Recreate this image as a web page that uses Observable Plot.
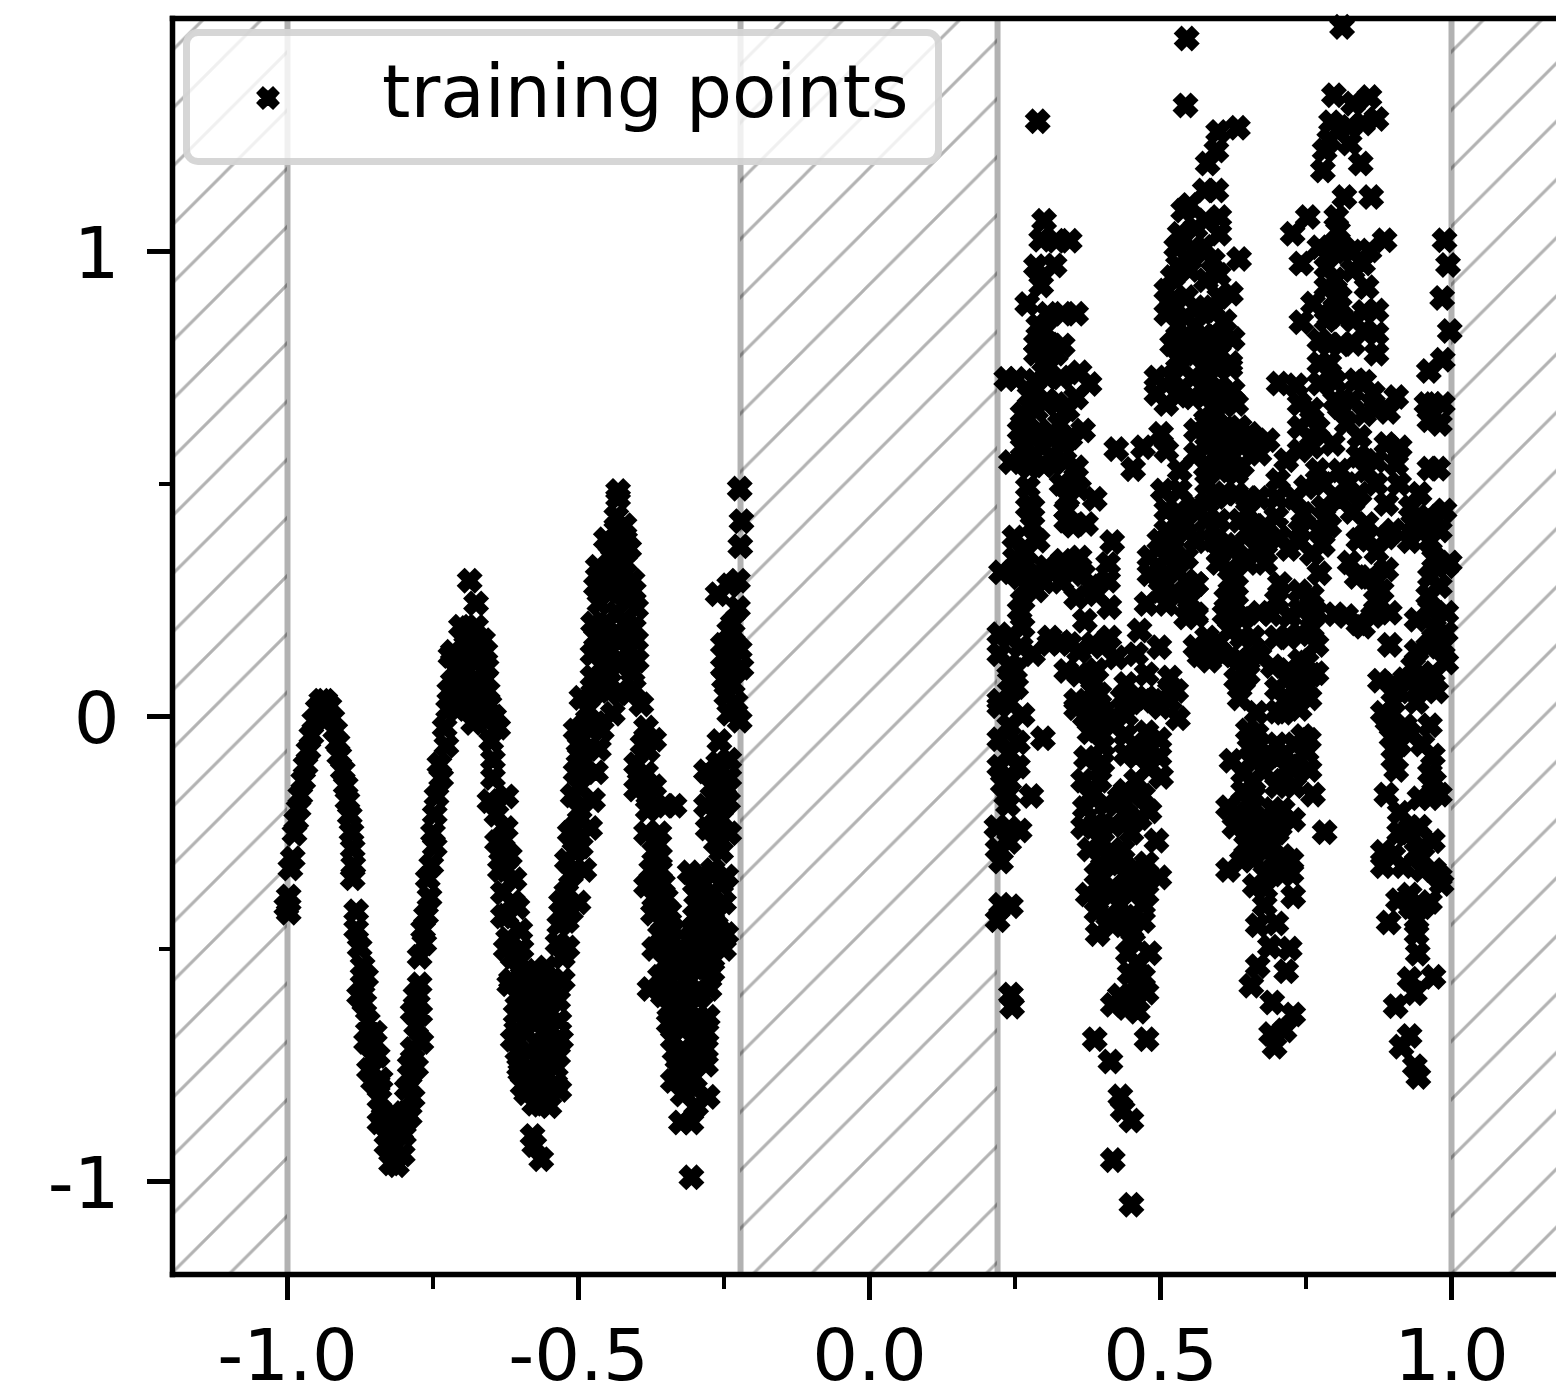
<!DOCTYPE html>
<html><head><meta charset="utf-8">
<script src="https://cdn.jsdelivr.net/npm/d3@7"></script>
<script src="https://cdn.jsdelivr.net/npm/@observablehq/plot@0.6"></script>
<style>
html,body{margin:0;padding:0;background:#fff;font-family:"DejaVu Sans",sans-serif}
#wrap{position:relative;width:1556px;height:1390px;overflow:hidden}
#legend{position:absolute;left:183px;top:29px;width:759px;height:136px;box-sizing:border-box;border:7px solid rgba(204,204,204,.8);border-radius:15px;background:rgba(255,255,255,.8)}
#legend span{position:absolute;left:192px;top:14px;font:72.5px/84px "DejaVu Sans";color:#000;white-space:pre}
#legend svg{position:absolute;left:66px;top:50px}
</style></head><body><div id="wrap"></div>
<script>
const xTicks=[-1,-0.5,0,0.5,1];
const xTickLabels=["-1.0","-0.5","0.0","0.5","1.0"];
const xMinorTicks=[-0.75,-0.25,0.25,0.75];
const yTicks=[-1,0,1];
const yTickLabels=["-1","0","1"];
const yMinorTicks=[-0.5,0.5];
const gapEdges=[-1,-0.2216,0.22,1];
const hatchedStart=[-1.1976,-0.2216,1];
const hatchedEnd=[-1,0.22,1.1804];
const legendLabel="training points";

const waveA=[[-.998,-.422],[-1.002,-.409],[-.998,-.387],[-.995,-.327],[-.991,-.305],[-.988,-.252],[-.985,-.224],[-.981,-.198],[-.978,-.170],[-.973,-.138],[-.969,-.105],[-.964,-.073],[-.959,-.041],[-.954,-.009],[-.948,.017],[-.942,.034],[-.935,.034],[-.928,.022],[-.923,-.004],[-.918,-.030],[-.914,-.056],[-.911,-.084],[-.905,-.116],[-.900,-.148],[-.897,-.181],[-.893,-.213],[-.890,-.249],[-.888,-.284],[-.887,-.320],[-.888,-.348]];
const waveB=[[-.882,-.419],[-.882,-.458],[-.876,-.497],[-.871,-.537],[-.871,-.576],[-.868,-.616],[-.862,-.655],[-.856,-.695],[-.853,-.734],[-.853,-.784],[-.842,-.823],[-.842,-.873],[-.830,-.922],[-.822,-.961],[-.802,-.942],[-.805,-.892],[-.796,-.853],[-.819,-.853],[-.790,-.794],[-.779,-.754],[-.785,-.715],[-.779,-.665],[-.785,-.636],[-.776,-.596],[-.773,-.576],[-.830,-.880],[-.815,-.925],[-.812,-.965],[-.800,-.900],[-.825,-.900],[-.810,-.880],[-.790,-.860],[-.835,-.860],[-.785,-.820],[-.845,-.790],[-.790,-.750],[-.770,-.700],[-.795,-.800],[-.772,-.640],[-.780,-.600],[-.865,-.560],[-.877,-.600],[-.850,-.680],[-.865,-.700],[-.845,-.730],[-.860,-.760],[-.840,-.780]];
const waveC=[[-.773,-.517],[-.765,-.488],[-.767,-.458],[-.762,-.428],[-.756,-.389],[-.759,-.349],[-.753,-.320],[-.747,-.280],[-.750,-.251],[-.747,-.211],[-.744,-.172],[-.736,-.132],[-.739,-.103],[-.727,-.063],[-.730,-.024],[-.724,.016],[-.722,.055],[-.716,.075],[-.710,.016],[-.687,.292],[-.676,.243],[-.702,.193],[-.676,.193],[-.664,.164],[-.716,.139],[-.693,.154],[-.670,.124],[-.658,.105],[-.699,.085],[-.676,.075],[-.656,.055],[-.653,.026],[-.638,-.024],[-.658,-.009],[-.681,-.014],[-.700,.050],[-.690,.020],[-.680,.040],[-.700,.120],[-.680,.120],[-.660,.080],[-.690,.190],[-.710,.100],[-.720,.130],[-.660,.140],[-.665,.030],[-.645,.000]];
const waveD=[[-.650,-.053],[-.647,-.093],[-.647,-.132],[-.653,-.182],[-.624,-.172],[-.641,-.211],[-.630,-.261],[-.633,-.290],[-.624,-.330],[-.630,-.379],[-.613,-.399],[-.624,-.428],[-.621,-.478],[-.613,-.517],[-.616,-.567],[-.590,-.547],[-.619,-.576],[-.596,-.557],[-.573,-.576],[-.544,-.567],[-.527,-.567],[-.607,-.675],[-.613,-.695],[-.579,-.655],[-.556,-.645],[-.533,-.655],[-.530,-.695],[-.602,-.754],[-.596,-.794],[-.567,-.734],[-.539,-.754],[-.533,-.803],[-.567,-.803],[-.576,-.833],[-.550,-.838],[-.579,-.902],[-.576,-.922],[-.564,-.952],[-.600,-.625],[-.575,-.610],[-.545,-.610]];
const waveDFill=[[-.625,-.240],[-.618,-.300],[-.610,-.350],[-.605,-.410],[-.600,-.460],[-.598,-.500],[-.640,-.270],[-.635,-.330],[-.630,-.430],[-.625,-.500],[-.605,-.520],[-.605,-.600],[-.582,-.640],[-.556,-.600],[-.535,-.610],[-.608,-.640],[-.590,-.680],[-.560,-.680],[-.540,-.700],[-.605,-.720],[-.585,-.720],[-.553,-.720],[-.535,-.730],[-.600,-.765],[-.580,-.760],[-.555,-.770],[-.540,-.790],[-.590,-.810],[-.550,-.805],[-.565,-.835],[-.585,-.600],[-.565,-.555],[-.555,-.540]];
const waveE=[[-.527,-.517],[-.536,-.488],[-.519,-.497],[-.533,-.448],[-.513,-.419],[-.521,-.379],[-.513,-.340],[-.507,-.290],[-.496,-.280],[-.507,-.241],[-.498,-.201],[-.498,-.152],[-.496,-.103],[-.498,-.063],[-.493,-.024],[-.470,-.014],[-.484,.016],[-.441,.006],[-.476,.134],[-.476,.085],[-.447,.144],[-.447,.095],[-.447,.055],[-.413,.144],[-.407,.095],[-.401,.164],[-.464,.243],[-.435,.223],[-.401,.233],[-.467,.322],[-.430,.312],[-.407,.292],[-.413,.361],[-.453,.381],[-.435,.401],[-.435,.430],[-.432,.470],[-.432,.485],[-.441,.341],[-.421,.411]];
const waveEFill=[[-.520,-.440],[-.500,-.400],[-.530,-.400],[-.490,-.330],[-.520,-.310],[-.480,-.240],[-.515,-.250],[-.475,-.180],[-.510,-.170],[-.470,-.120],[-.505,-.120],[-.465,-.070],[-.500,-.080],[-.460,-.030],[-.505,-.030],[-.475,.050],[-.495,.040],[-.460,.060],[-.460,.110],[-.460,.160],[-.430,.050],[-.430,.110],[-.430,.160],[-.420,.200],[-.450,.200],[-.405,.120],[-.405,.060],[-.415,.050],[-.420,.260],[-.450,.270],[-.440,.280],[-.430,.350],[-.445,.370],[-.420,.380],[-.470,.280],[-.405,.190],[-.405,.270],[-.455,.310],[-.420,.330],[-.430,.270],[-.475,.200],[-.470,.170],[-.400,.120]];
const waveF=[[-.392,.026],[-.384,-.024],[-.381,-.073],[-.401,-.103],[-.384,-.122],[-.401,-.157],[-.381,-.201],[-.384,-.251],[-.361,-.251],[-.370,-.290],[-.375,-.330],[-.384,-.364],[-.355,-.359],[-.372,-.424],[-.344,-.419],[-.350,-.192],[-.335,-.192],[-.390,-.060],[-.370,-.050],[-.395,-.140],[-.370,-.150],[-.380,-.170],[-.360,-.300],[-.360,-.330],[-.350,-.390],[-.370,-.390],[-.355,-.440]];
const clusterLow=[[-.338,-.458],[-.304,-.458],[-.355,-.488],[-.269,-.468],[-.246,-.468],[-.315,-.507],[-.281,-.497],[-.378,-.586],[-.344,-.567],[-.309,-.567],[-.275,-.586],[-.344,-.626],[-.309,-.626],[-.278,-.646],[-.338,-.695],[-.304,-.695],[-.281,-.715],[-.281,-.749],[-.327,-.754],[-.304,-.754],[-.338,-.784],[-.321,-.813],[-.278,-.818],[-.298,-.838],[-.324,-.873],[-.306,-.873],[-.306,-.991],[-.309,-.335],[-.269,-.330],[-.246,-.344],[-.298,-.384],[-.269,-.379],[-.264,-.428]];
const clusterLowFill=[[-.300,-.360],[-.285,-.360],[-.250,-.400],[-.285,-.420],[-.300,-.430],[-.260,-.460],[-.290,-.490],[-.270,-.520],[-.250,-.500],[-.290,-.530],[-.330,-.520],[-.350,-.530],[-.360,-.560],[-.320,-.600],[-.290,-.600],[-.330,-.660],[-.310,-.660],[-.290,-.680],[-.320,-.720],[-.290,-.720],[-.310,-.790],[-.300,-.800],[-.370,-.500],[-.265,-.170],[-.265,-.210],[-.260,-.130],[-.265,-.240],[-.255,-.290],[-.360,-.470],[-.340,-.500],[-.310,-.480],[-.290,-.460],[-.260,-.490],[-.330,-.550],[-.300,-.540],[-.270,-.550],[-.355,-.600],[-.335,-.590],[-.300,-.600],[-.345,-.660],[-.320,-.640],[-.295,-.650],[-.335,-.720],[-.300,-.730],[-.280,-.680],[-.330,-.760],[-.270,-.400],[-.290,-.400],[-.285,-.450],[-.295,-.350],[-.255,-.360],[-.270,-.440],[-.270,-.150],[-.255,-.190],[-.255,-.220],[-.250,-.150],[-.260,-.100]];
const clusterHigh=[[-.261,-.122],[-.281,-.118],[-.241,-.132],[-.281,-.192],[-.243,-.182],[-.278,-.241],[-.241,-.251],[-.264,-.270],[-.241,-.093],[-.258,-.053],[-.261,.263],[-.226,.292],[-.241,.282],[-.223,.490],[-.220,.420],[-.222,.366],[-.226,.233],[-.241,.184],[-.252,.154],[-.223,.144],[-.252,.105],[-.220,.105],[-.246,.045],[-.223,-.009],[-.241,.006],[-.235,.160],[-.235,.120],[-.235,.070],[-.230,.030],[-.250,.080],[-.240,.120],[-.235,.200]];

const rightTop=[[.300,1.066],[.295,1.025],[.321,1.023],[.344,1.023],[.286,.968],[.318,.970],[.295,.927],[.271,.887],[.306,.866],[.332,.866],[.355,.866],[.301,.830],[.286,.801],[.332,.798],[.286,.780],[.306,.773],[.235,.726],[.252,.726],[.284,.722],[.306,.729],[.329,.729],[.361,.740],[.378,.715],[.263,.651],[.286,.658],[.321,.672],[.355,.686],[.258,.615],[.292,.615],[.327,.629],[.367,.615],[.263,.579],[.298,.579],[.332,.586],[.243,.547],[.275,.536],[.315,.543],[.355,.536],[.272,.493],[.272,.450],[.349,.500],[.387,.468],[.338,.443],[.372,.414],[.338,.421],[.249,.385],[.289,.378],[.263,.357],[.417,.375],[.361,.342],[.332,.335],[.304,.321],[.410,.328],[.226,.310],[.258,.299],[.367,.306],[.410,.292],[.327,.314],[.263,.249],[.258,.228],[.286,.271],[.355,.256],[.390,.263],[.412,.235],[.223,.177],[.263,.192],[.370,.206],[.223,.134],[.241,.077],[.281,.134],[.309,.156],[.344,.156],[.384,.156],[.412,.170],[.223,.034],[.338,.098],[.384,.077],[.355,.034],[.384,.034],[.424,.127],[.458,.134],[.289,1.280]];
const rightTopFill=[[.275,.690],[.305,.680],[.340,.660],[.270,.620],[.310,.600],[.345,.600],[.270,.560],[.300,.540],[.335,.550],[.330,.500],[.360,.490],[.280,.450],[.340,.470],[.280,.410],[.350,.410],[.300,.740],[.290,.840],[.310,.800],[.320,.780],[.270,.330],[.250,.340],[.280,.300],[.300,.290],[.270,.280],[.330,.290],[.350,.310],[.380,.280],[.240,.170],[.260,.150],[.240,.110],[.250,.100],[.310,.170],[.330,.160],[.360,.140],[.400,.150],[.390,.100],[.360,.090],[.240,.030],[.240,-.020],[.240,-.080],[.240,-.140],[.235,-.170],[.240,-.240],[.240,-.270]];
const rightMid=[[.424,.575],[.453,.532],[.470,.579],[.501,.608],[.510,.572],[.533,.529],[.493,.729],[.493,.694],[.510,.672],[.510,.916],[.510,.866],[.527,1.009],[.539,1.088],[.533,1.038],[.521,.945],[.544,.902],[.544,.859],[.544,.808],[.521,.729],[.556,.729],[.556,.686],[.590,.880],[.590,.808],[.590,.758],[.561,.615],[.561,.565],[.590,.665],[.590,.593],[.590,.536],[.504,.486],[.510,.443],[.533,.486],[.544,.414],[.498,.378],[.481,.342],[.510,.342],[.544,.342],[.481,.306],[.544,.292],[.561,.285],[.476,.242],[.510,.242],[.544,.213],[.561,.220],[.579,.142],[.584,.120],[.464,.185],[.498,.149],[.441,.070],[.476,.091],[.516,.084],[.527,.055],[.516,.034],[.447,.034],[.487,.034],[.545,1.458],[.543,1.314]];
const rightMidFill=[[.520,.880],[.530,.840],[.520,.800],[.530,.970],[.550,.960],[.560,1.000],[.575,1.010],[.560,1.050],[.550,1.100],[.560,.880],[.560,.840],[.575,.820],[.530,.770],[.560,.780],[.575,.750],[.600,.780],[.620,.760],[.530,.690],[.575,.690],[.610,.670],[.580,.630],[.610,.620],[.580,.580],[.610,.560],[.640,.580],[.580,.500],[.610,.480],[.510,.400],[.530,.400],[.560,.450],[.580,.460],[.530,.440],[.560,.380],[.590,.380],[.520,.360],[.500,.300],[.530,.310],[.500,.270],[.530,.260],[.550,.250],[.600,.330],[.620,.360],[.650,.400],[.680,.330],[.620,.270]];
const rightLow=[[.252,.063],[.223,.022],[.263,.003],[.223,-.049],[.255,-.056],[.298,-.047],[.223,-.108],[.255,-.108],[.229,-.145],[.238,-.190],[.278,-.171],[.218,-.238],[.258,-.245],[.220,-.286],[.226,-.312],[.226,-.405],[.243,-.408],[.220,-.438],[.243,-.598],[.245,-.624],[.355,.018],[.395,.048],[.384,.011],[.435,.040],[.476,.040],[.516,.055],[.530,-.004],[.441,.003],[.378,-.034],[.418,-.019],[.476,-.034],[.498,-.049],[.372,-.089],[.401,-.063],[.367,-.138],[.395,-.138],[.458,-.086],[.498,-.086],[.501,-.130],[.458,-.138],[.370,-.197],[.407,-.190],[.367,-.238],[.430,-.175],[.481,-.204],[.418,-.234],[.464,-.219],[.493,-.267],[.378,-.286],[.435,-.286],[.401,-.323],[.430,-.316],[.458,-.327],[.476,-.316],[.498,-.346],[.375,-.383],[.418,-.368],[.476,-.383],[.390,-.420],[.430,-.405],[.470,-.405],[.392,-.468],[.418,-.449],[.453,-.464],[.444,-.509],[.481,-.509],[.447,-.553],[.458,-.575],[.476,-.594],[.418,-.620],[.441,-.627],[.461,-.635],[.387,-.694],[.476,-.694],[.414,-.742],[.431,-.817],[.435,-.846],[.450,-.869],[.418,-.954],[.450,-1.050]];
const rightLowFill=[[.370,.000],[.400,.010],[.420,.000],[.450,.030],[.500,.020],[.390,-.030],[.440,-.040],[.470,-.070],[.400,-.100],[.440,-.080],[.480,-.110],[.380,-.170],[.440,-.160],[.470,-.170],[.390,-.230],[.440,-.210],[.400,-.270],[.450,-.250],[.410,-.300],[.390,-.340],[.440,-.340],[.470,-.350],[.400,-.380],[.450,-.380],[.410,-.430],[.440,-.430],[.470,-.440],[.450,-.480],[.460,-.530],[.470,-.560],[.450,-.600],[.430,-.600]];
const peakUpper=[[.812,1.483],[.798,1.336],[.831,1.318],[.859,1.332],[.793,1.278],[.871,1.285],[.825,1.268],[.848,1.275],[.782,1.217],[.825,1.232],[.779,1.174],[.844,1.189],[.816,1.117],[.862,1.117],[.802,1.074],[.753,1.074],[.727,1.038],[.805,1.045],[.885,1.024],[.773,1.009],[.813,1.009],[.859,1.002],[.742,.974],[.785,.966],[.848,.974],[.785,.923],[.854,.923],[.762,.888],[.808,.902],[.871,.873],[.742,.848],[.785,.852],[.831,.852],[.871,.823],[.773,.809],[.831,.801],[.871,.780],[.773,.759],[.703,.716],[.733,.712],[.773,.716],[.836,.723],[.865,.694],[.905,.687],[.891,.655],[.739,.672],[.808,.665],[.739,.622],[.739,.572],[.796,.586],[.842,.601],[.888,.586],[.911,.579],[.702,.508],[.716,.551],[.699,.429],[.750,.493],[.808,.529],[.854,.529],[.905,.543],[.745,.436],[.808,.465],[.842,.479],[.888,.457],[.945,.479],[.962,.533],[.977,.533],[.988,.443],[.968,.407],[.934,.414],[.854,.414],[.773,.400],[.988,1.024],[.994,.971],[.984,.900],[.997,.829],[.985,.767],[.961,.743],[.968,.672],[.962,.637],[.985,.672],[.957,.672],[.980,.629]];
const peakUpperFill=[[.790,1.240],[.800,1.000],[.830,1.000],[.800,.940],[.830,.960],[.800,.900],[.790,.860],[.810,.860],[.790,.800],[.810,.800],[.850,.870],[.850,.830],[.790,.760],[.800,.720],[.850,.720],[.800,.680],[.830,.680],[.870,.660],[.760,.660],[.770,.620],[.820,.630],[.850,.650],[.760,.580],[.770,.530],[.840,.560],[.870,.550],[.780,.500],[.820,.500],[.870,.500],[.780,.450],[.830,.440],[.910,.500],[.960,.430],[.930,.450],[.980,.400],[.740,.400],[.790,.410],[.840,.380],[.900,.400],[.950,.400],[.970,.420]];
const peakInner=[[.633,1.266],[.599,1.257],[.596,1.217],[.581,1.189],[.596,1.131],[.576,1.131],[.601,1.074],[.578,1.067],[.601,1.038],[.635,.984],[.621,.909],[.601,.902],[.578,.938],[.578,.873],[.624,.812],[.596,.816],[.578,.780],[.596,.751],[.624,.701],[.601,.708],[.578,.723],[.630,.672],[.596,.651],[.578,.637],[.653,.608],[.684,.594],[.670,.565],[.636,.622],[.601,.579],[.630,.522],[.601,.529],[.578,.536],[.630,.479],[.596,.472],[.601,.421],[.636,.421],[.578,.421],[.670,.393],[.590,.980],[.600,.950],[.590,.870],[.610,.850],[.600,.780],[.620,.750],[.600,.680],[.630,.600],[.620,.560],[.640,.540],[.650,.470],[.670,.470],[.650,.440],[.660,.410],[.680,.410],[.700,.470],[.730,.470]];
const valleyMid=[[.561,.377],[.596,.377],[.630,.369],[.665,.362],[.705,.385],[.739,.377],[.779,.369],[.619,.316],[.613,.254],[.561,.285],[.630,.239],[.561,.216],[.579,.139],[.670,.223],[.705,.285],[.739,.269],[.773,.308],[.768,.223],[.722,.216],[.619,.185],[.659,.170],[.699,.170],[.739,.177],[.768,.154],[.607,.131],[.636,.124],[.693,.108],[.567,.131],[.751,.116],[.768,.093],[.642,.077],[.745,.077],[.636,.039],[.716,.031],[.756,.039],[.711,.008],[.739,.016],[.665,.008],[.665,-.038],[.745,-.042],[.653,-.068],[.622,-.095],[.688,-.084],[.751,-.076],[.642,-.122],[.676,-.115],[.722,-.107],[.756,-.115],[.642,-.161],[.710,-.138],[.762,-.168],[.616,-.195],[.659,-.191],[.693,-.199],[.728,-.222],[.627,-.237],[.665,-.237],[.705,-.237],[.782,-.249],[.647,-.276],[.693,-.276],[.616,-.330],[.659,-.307],[.693,-.330],[.725,-.310],[.725,-.337],[.662,-.364],[.728,-.387],[.679,-.406],[.667,-.449],[.699,-.445],[.688,-.495],[.722,-.499],[.667,-.537],[.716,-.548],[.656,-.579],[.692,-.615],[.728,-.641],[.713,-.675],[.690,-.683],[.696,-.710]];
const valleyMidFill=[[.600,.350],[.650,.330],[.680,.370],[.720,.360],[.760,.350],[.630,.280],[.700,.250],[.740,.230],[.760,.260],[.610,.220],[.640,.210],[.690,.220],[.760,.190],[.640,.170],[.600,.160],[.580,.170],[.560,.150],[.600,.140],[.720,.170],[.650,.120],[.670,.130],[.650,.090],[.630,.080],[.740,.120],[.720,.100],[.760,.090],[.700,.060],[.730,.060],[.700,.010],[.730,.040],[.650,-.030],[.670,-.060],[.700,-.060],[.730,-.060],[.755,-.050],[.660,-.090],[.700,-.090],[.730,-.100],[.660,-.140],[.700,-.150],[.730,-.150],[.660,-.170],[.630,-.210],[.650,-.210],[.680,-.220],[.710,-.200],[.650,-.250],[.670,-.260],[.700,-.250],[.660,-.290],[.680,-.290],[.710,-.300],[.640,-.310],[.680,-.340],[.710,-.340],[.680,-.370]];
const valleyRight=[[.854,.385],[.888,.385],[.928,.377],[.963,.377],[.997,.331],[.825,.331],[.871,.354],[.888,.316],[.837,.300],[.871,.292],[.963,.300],[.991,.323],[.819,.216],[.865,.216],[.848,.193],[.894,.223],[.894,.154],[.963,.231],[.991,.223],[.940,.208],[.985,.154],[.934,.108],[.991,.116],[.968,.093],[.877,.077],[.911,.054],[.945,.062],[.974,.054],[.882,.008],[.940,.031],[.963,-.019],[.897,-.045],[.928,-.038],[.900,-.092],[.905,-.115],[.968,-.084],[.963,-.122],[.888,-.168],[.963,-.176],[.980,-.168],[.911,-.207],[.945,-.176],[.945,-.237],[.922,-.253],[.968,-.268],[.882,-.291],[.882,-.322],[.917,-.322],[.940,-.291],[.980,-.345],[.983,-.360],[.928,-.383],[.908,-.395],[.963,-.399],[.940,-.437],[.892,-.443],[.940,-.468],[.942,-.510],[.928,-.564],[.969,-.560],[.937,-.595],[.904,-.623],[.928,-.687],[.914,-.710],[.937,-.752],[.943,-.775]];
const valleyRightFill=[[.970,.340],[.980,.280],[.960,.260],[.970,.190],[.990,.180],[.960,.150],[.940,.140],[.950,.090],[.900,.070],[.920,.080],[.900,.030],[.890,-.010],[.910,-.060],[.950,-.060],[.920,-.020],[.970,-.140],[.930,-.240],[.910,-.250],[.950,-.280],[.900,-.300],[.950,-.330],[.970,-.330],[.930,-.410],[.950,-.410],[.800,.220],[.840,.200],[.870,.250],[.860,.300],[.880,.270]];

const trainingPoints=[...waveA,...waveB,...waveC,...waveD,...waveDFill,...waveE,...waveEFill,...waveF,...clusterLow,...clusterLowFill,...clusterHigh,...rightTop,...rightTopFill,...rightMid,...rightMidFill,...rightLow,...rightLowFill,...peakUpper,...peakUpperFill,...peakInner,...valleyMid,...valleyMidFill,...valleyRight,...valleyRightFill];

// matplotlib-style filled "X" marker with a heavy edge
const filledX={draw(ctx,size){
  const u=Math.sqrt(size/Math.PI)/2;
  const pts=[[-1,-2],[0,-1],[1,-2],[2,-1],[1,0],[2,1],[1,2],[0,1],[-1,2],[-2,1],[-1,0],[-2,-1]];
  pts.forEach(([a,b],i)=>i?ctx.lineTo(a*u,b*u):ctx.moveTo(a*u,b*u));
  ctx.closePath();
}};

const T=58.2;
const regions=hatchedStart.map((a,i)=>({a,b:hatchedEnd[i]}));
const yDomain=[-1.2,1.501];
const fmtX=d=>xTickLabels[xTicks.indexOf(d)];
const fmtY=d=>yTickLabels[yTicks.indexOf(d)];

const chart=Plot.plot({
  width:1556,height:1390,
  marginLeft:172,marginRight:0,marginTop:18,marginBottom:116,
  style:{background:"#fff",fontFamily:"DejaVu Sans",color:"#000",overflow:"hidden",maxWidth:"none"},
  x:{domain:[-1.1976,1.1804]},
  y:{domain:yDomain},
  marks:[
    Plot.rect(regions,{x1:"a",x2:"b",y1:()=>yDomain[0],y2:()=>yDomain[1],fill:"url(#hatch)",stroke:"none"}),
    Plot.ruleX(gapEdges,{stroke:"#000",strokeOpacity:.3,strokeWidth:6}),
    Plot.dot(trainingPoints,{x:d=>d[0],y:d=>d[1],symbol:filledX,r:10.2,fill:"#000",stroke:"#000",strokeWidth:4,strokeLinejoin:"miter",strokeMiterlimit:4}),
    Plot.axisX({ticks:xTicks,tickSize:26,tickPadding:28,tickFormat:fmtX,fontSize:72,strokeWidth:5,label:null,anchor:"bottom"}),
    Plot.axisX({ticks:xMinorTicks,tickSize:15,tickFormat:()=>"",strokeWidth:4,label:null,anchor:"bottom"}),
    Plot.axisY({ticks:yTicks,tickSize:25,tickFormat:()=>"",strokeWidth:5,label:null,anchor:"left"}),
    Plot.axisY({ticks:yTicks,tickSize:0,tickPadding:53,tickFormat:fmtY,fontSize:72,strokeWidth:0,label:null,anchor:"left",dy:3}),
    Plot.axisY({ticks:yMinorTicks,tickSize:13,tickFormat:()=>"",strokeWidth:4,label:null,anchor:"left"}),
    Plot.frame({anchor:"left",stroke:"#000",strokeWidth:5.5}),
    Plot.frame({anchor:"top",stroke:"#000",strokeWidth:5.5}),
    Plot.frame({anchor:"bottom",stroke:"#000",strokeWidth:5.5})
  ]
});
d3.select(chart).insert("defs",":first-child").html(
  `<pattern id="hatch" patternUnits="userSpaceOnUse" width="${T}" height="${T}" patternTransform="translate(48.2,0)">
   <path d="M-6,6L6,-6M0,${T}L${T},0M${T-6},${T+6}L${T+6},${T-6}" stroke="#b2b2b2" stroke-width="3" fill="none"/></pattern>`);
const wrap=document.getElementById("wrap");
wrap.appendChild(chart);
const legend=document.createElement("div");
legend.id="legend";
const X=[[-5,-9.5],[0,-5],[5,-9.5],[9.5,-5],[5,0],[9.5,5],[5,9.5],[0,5],[-5,9.5],[-9.5,5],[-5,0],[-9.5,-5]].map(p=>p.join(",")).join(" ");
legend.innerHTML=`<svg width="24" height="24" viewBox="-12 -12 24 24"><polygon points="${X}" fill="#000" stroke="#000" stroke-width="3.5"/></svg><span>${legendLabel}</span>`;
wrap.appendChild(legend);
</script></body></html>
